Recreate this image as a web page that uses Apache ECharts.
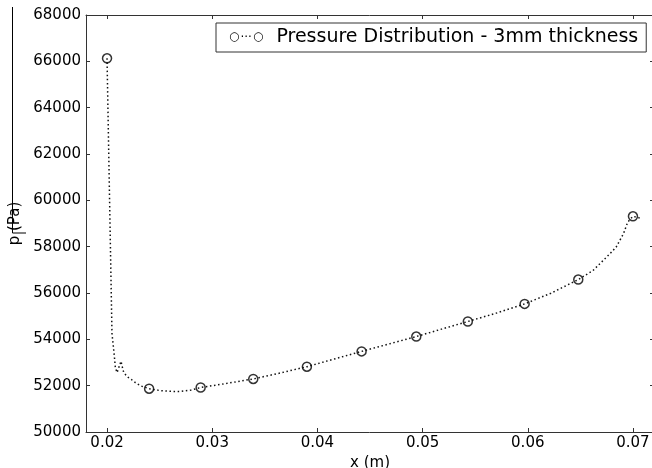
<!DOCTYPE html>
<html>
<head>
<meta charset="utf-8">
<script src="https://cdn.jsdelivr.net/npm/echarts@6/dist/echarts.min.js"></script>
<style>
html,body{margin:0;padding:0;background:#fff;}
#c{width:652px;height:468px;}
</style>
</head>
<body>
<div id="c"></div>
<script>
var seriesName = 'Pressure Distribution - 3mm thickness';
var curveX = [0.0200, 0.02047, 0.0206, 0.02069, 0.02079, 0.02095, 0.02133, 0.02142, 0.02158, 0.0219, 0.0223, 0.0227, 0.0232, 0.0240, 0.0250, 0.0260, 0.0270, 0.0280, 0.0289, 0.0314, 0.0339, 0.0365, 0.0390, 0.0416, 0.0442, 0.0468, 0.0494, 0.0518, 0.0543, 0.0570, 0.0597, 0.0622, 0.0648, 0.0662, 0.0678, 0.0684, 0.0691, 0.0695, 0.0700, 0.0707];
var curveY = [66130, 54250, 53690, 53300, 52780, 52566, 53054, 52868, 52579, 52390, 52270, 52130, 51990, 51870, 51790, 51755, 51750, 51810, 51920, 52100, 52290, 52550, 52820, 53150, 53480, 53800, 54120, 54440, 54770, 55130, 55530, 55990, 56580, 56970, 57690, 57980, 58560, 59060, 59310, 59230];
var markerX = [0.0200, 0.0240, 0.0289, 0.0339, 0.0390, 0.0442, 0.0494, 0.0543, 0.0597, 0.0648, 0.0700];
var markerY = [66130, 51870, 51920, 52290, 52820, 53480, 54120, 54770, 55530, 56580, 59310];
var xTicks = [0.02, 0.03, 0.04, 0.05, 0.06, 0.07];
var xMin = 0.018, xMax = 0.072;
var yMin = 50000, yMax = 68000, yStep = 2000;

function pairs(xs, ys) { return xs.map(function (x, i) { return [x, ys[i]]; }); }

var FONT = 'DejaVu Sans';
var spine = { show: true, lineStyle: { color: '#333', width: 1 } };
var chart = echarts.init(document.getElementById('c'), null, { renderer: 'canvas' });
chart.setOption({
  animation: false,
  backgroundColor: '#fff',
  textStyle: { fontFamily: FONT },
  grid: { left: 86, top: 15, bottom: 36, right: -2, containLabel: false, outerBoundsMode: 'none' },
  legend: {
    data: [seriesName],
    left: 216, top: 23,
    padding: [5, 8, 5, 8],
    borderColor: '#333', borderWidth: 1, borderRadius: 0,
    backgroundColor: '#fff',
    selectedMode: false,
    itemWidth: 0, itemHeight: 0, itemGap: 0,
    icon: 'rect',
    formatter: function (n) { return '{m|○}{d|···}{m|○}{t|' + n + '}'; },
    textStyle: {
      fontFamily: FONT, color: '#000', fontSize: 19,
      rich: {
        m: { fontFamily: FONT, fontSize: 12, color: '#000', padding: [0, 0, 2, 0] },
        d: { fontFamily: FONT, fontSize: 12, color: '#000', padding: [0, 1, 0, 1] },
        t: { fontFamily: FONT, fontSize: 19, color: '#000', padding: [0, 0, 0, 13] }
      }
    }
  },
  xAxis: [{
    type: 'value', min: xMin, max: xMax, position: 'bottom',
    name: 'x (m)', nameLocation: 'middle', nameGap: 14,
    nameTextStyle: { fontFamily: FONT, fontSize: 15, color: '#000' },
    axisLine: spine,
    axisTick: { show: true, inside: true, length: 4, customValues: xTicks, lineStyle: { color: '#333' } },
    axisLabel: { show: true, customValues: xTicks, fontFamily: FONT, fontSize: 15, color: '#000', margin: 4,
      formatter: function (v) { return v.toFixed(2); } },
    splitLine: { show: false }
  }, {
    type: 'value', min: xMin, max: xMax, position: 'top',
    axisLine: spine,
    axisTick: { show: true, inside: true, length: 4, customValues: xTicks, lineStyle: { color: '#333' } },
    axisLabel: { show: false },
    splitLine: { show: false }
  }],
  yAxis: [{
    type: 'value', min: yMin, max: yMax, interval: yStep, position: 'left',
    name: 'p (Pa)', nameLocation: 'middle', nameGap: 57, nameRotate: 90,
    nameTextStyle: { fontFamily: FONT, fontSize: 15, color: '#000' },
    axisLine: spine,
    axisTick: { show: true, inside: true, length: 4, lineStyle: { color: '#333' } },
    axisLabel: { fontFamily: FONT, fontSize: 15, color: '#000', margin: 5,
      formatter: function (v) { return String(v); } },
    splitLine: { show: false }
  }, {
    type: 'value', min: yMin, max: yMax, interval: yStep, position: 'right',
    axisLine: spine,
    axisTick: { show: true, inside: true, length: 4, lineStyle: { color: '#333' } },
    axisLabel: { show: false },
    splitLine: { show: false }
  }],
  series: [{
    name: seriesName,
    type: 'line',
    data: pairs(curveX, curveY),
    showSymbol: false,
    symbol: 'none',
    lineStyle: { color: '#111', width: 1.5, type: [1.5, 2.6] },
    z: 2
  }, {
    name: seriesName,
    type: 'scatter',
    data: pairs(markerX, markerY),
    symbol: 'circle',
    symbolSize: 9,
    itemStyle: { color: 'rgba(0,0,0,0)', borderColor: '#000', borderWidth: 1.5 },
    z: 3
  }],
  graphic: [{
    type: 'line', shape: { x1: 12.5, y1: 7, x2: 12.5, y2: 233 },
    style: { stroke: '#000', lineWidth: 1 }, silent: true
  }, {
    type: 'line', shape: { x1: 12.5, y1: 233, x2: 26, y2: 233 },
    style: { stroke: '#000', lineWidth: 1 }, silent: true
  }]
});
</script>
</body>
</html>
